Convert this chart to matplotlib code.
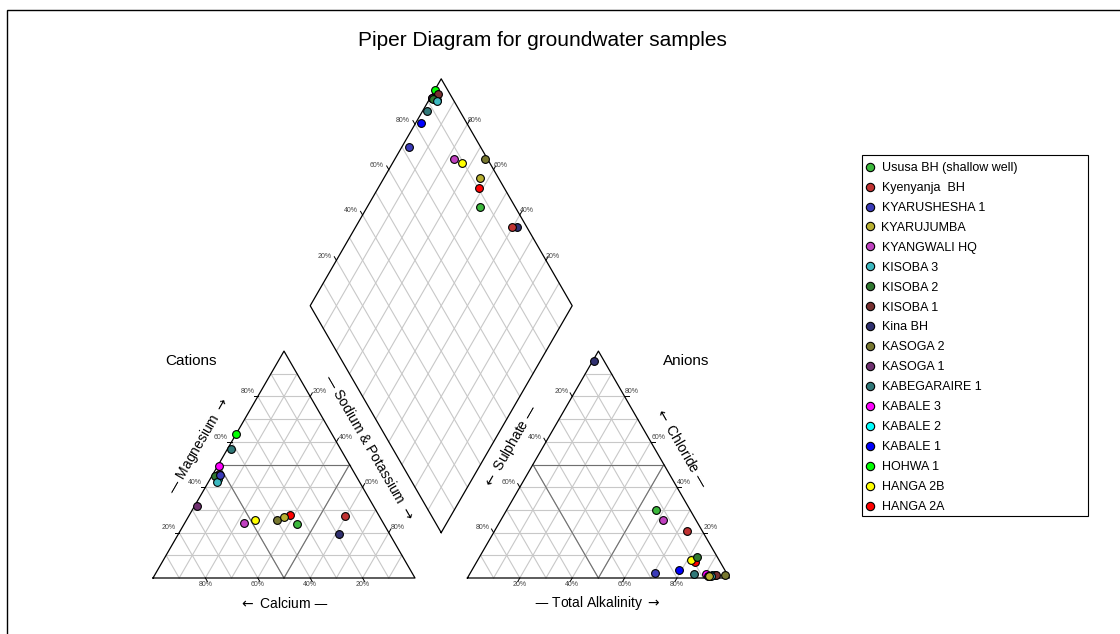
import numpy as np
import matplotlib
matplotlib.use("Agg")
from matplotlib import pyplot as plt
from matplotlib.lines import Line2D
from matplotlib.patches import Rectangle

plt.rcParams['font.family'] = ['Liberation Sans', 'DejaVu Sans']
plt.rcParams['mathtext.fontset'] = 'dejavusans'

# samples, in legend order
names = ["Ususa BH (shallow well)", "Kyenyanja  BH", "KYARUSHESHA 1", "KYARUJUMBA",
         "KYANGWALI HQ", "KISOBA 3", "KISOBA 2", "KISOBA 1", "Kina BH", "KASOGA 2",
         "KASOGA 1", "KABEGARAIRE 1", "KABALE 3", "KABALE 2", "KABALE 1", "HOHWA 1",
         "HANGA 2B", "HANGA 2A"]
colors = ["#3cb83c", "#c03232", "#3a3ab8", "#b8b030", "#c040c0", "#3cb8c0", "#307830",
          "#783030", "#303070", "#787830", "#703070", "#307878", "#ff00ff", "#00ffff",
          "#0000ff", "#00ff00", "#ffff00", "#ff0000"]

# cations, % meq
ca = [33.3, 13.0, 51.8, 36.5, 52.9, 54.7, 53.8, 51.8, 19.2, 40.0, 67.5, 41.7, 50.3, 53.5, 53.5, 36.5, 48.1, 33.6]
mg = [23.7, 27.4, 45.5, 26.9, 24.4, 42.1, 44.9, 46.0, 19.4, 25.6, 31.7, 56.7, 49.2, 43.5, 44.5, 63.3, 25.6, 27.9]
nak = [43.0, 59.6, 2.7, 36.6, 22.7, 3.2, 1.3, 2.2, 61.4, 34.4, 0.8, 1.6, 0.5, 3.0, 2.0, 0.2, 26.3, 38.5]

# anions, % meq
so4 = [13.3, 5.7, 27.5, 7.2, 12.6, 6.4, 7.8, 4.5, 3.8, 1.0, 7.6, 12.6, 7.9, 6.2, 17.4, 4.9, 10.6, 9.8]
cl = [29.8, 20.7, 2.1, 1.0, 25.5, 1.0, 9.3, 1.3, 95.7, 1.3, 0.8, 1.6, 1.9, 1.2, 3.4, 1.2, 8.1, 7.0]
alk = [56.9, 73.6, 70.4, 91.8, 61.9, 92.6, 82.9, 94.2, 0.5, 97.7, 91.6, 85.8, 90.2, 92.6, 79.2, 93.9, 81.3, 83.2]

h = np.sqrt(3) / 2
GAP = 0.2
AX0 = 1 + GAP  # left corner of anion triangle


def cation_xy(c, m, n):
    t = c + m + n
    return n / t + m / t / 2, m / t * h


def anion_xy(s, c, a):
    t = s + c + a
    return AX0 + a / t + c / t / 2, c / t * h


def diamond_xy(n, s):
    # u = Ca+Mg fraction, v = Cl+alkalinity fraction
    u = 1 - n / 100.0
    v = 1 - s / 100.0
    return 1 + GAP / 2 + 0.5 * (v - u), GAP * h + h * (u + v)


fig = plt.figure(figsize=(11.2, 6.34), dpi=100)
ax = fig.add_axes([0, 0, 1, 1])
ax.set_xlim(-153 / 262, (1120 - 153) / 262)
ax.set_ylim((578 - 634) / 262, 578 / 262)
ax.axis('off')

light = dict(color='#c8c8c8', lw=0.8, zorder=1)
dark = dict(color='#707070', lw=0.8, zorder=2)
edge = dict(color='black', lw=0.9, zorder=3)
tick = dict(color='black', lw=0.7, zorder=3)
lab = dict(fontsize=5, color='#444444', ha='center', va='center')
tl = 0.016


def seg(p, q, **kw):
    ax.plot([p[0], q[0]], [p[1], q[1]], **kw)


def triangle(ox):
    for f in np.arange(1, 10) / 10:
        seg((ox + f / 2, f * h), (ox + 1 - f / 2, f * h), **light)
        seg((ox + f, 0), (ox + (1 + f) / 2, (1 - f) * h), **light)
        seg((ox + 1 - f, 0), (ox + (1 - f) / 2, (1 - f) * h), **light)
    seg((ox + 0.25, h / 2), (ox + 0.75, h / 2), **dark)
    seg((ox + 0.5, 0), (ox + 0.25, h / 2), **dark)
    seg((ox + 0.5, 0), (ox + 0.75, h / 2), **dark)
    ax.plot([ox, ox + 1, ox + 0.5, ox], [0, 0, h, 0], **edge)


triangle(0)
triangle(AX0)

# diamond
B = np.array([1 + GAP / 2, GAP * h])
L = B + np.array([-0.5, h])
R = B + np.array([0.5, h])
T = L + (R - B)
for f in np.arange(1, 10) / 10:
    seg(B + f * (L - B), B + f * (L - B) + (R - B), **light)
    seg(B + f * (R - B), B + f * (R - B) + (L - B), **light)
ax.plot([B[0], L[0], T[0], R[0], B[0]], [B[1], L[1], T[1], R[1], B[1]], **edge)

# ticks and tick labels
for f in [0.2, 0.4, 0.6, 0.8]:
    pct = "{}%".format(int(round(f * 100)))
    # cations
    p = (1 - f, 0)
    seg(p, (p[0] + 0.5 * tl, p[1] - h * tl), **tick)
    ax.text(p[0], p[1] - 0.026, pct, **lab)
    p = (f / 2, f * h)
    seg(p, (p[0] - tl, p[1]), **tick)
    ax.text(p[0] - 0.040, p[1] + 0.018, pct, **lab)
    p = ((1 + f) / 2, (1 - f) * h)
    seg(p, (p[0] + 0.5 * tl, p[1] + h * tl), **tick)
    ax.text(p[0] + 0.035, p[1] + 0.018, pct, **lab)
    # anions
    p = (AX0 + f, 0)
    seg(p, (p[0] - 0.5 * tl, p[1] - h * tl), **tick)
    ax.text(p[0], p[1] - 0.026, pct, **lab)
    p = (AX0 + (1 - f) / 2, (1 - f) * h)
    seg(p, (p[0] - 0.5 * tl, p[1] + h * tl), **tick)
    ax.text(p[0] - 0.042, p[1] + 0.018, pct, **lab)
    p = (AX0 + 1 - f / 2, f * h)
    seg(p, (p[0] + tl, p[1]), **tick)
    ax.text(p[0] + 0.028, p[1] + 0.018, pct, **lab)
    # diamond
    p = L + f * (R - B)
    seg(p, p + tl * (L - B), **tick)
    ax.text(p[0] - 0.045, p[1] + 0.016, pct, **lab)
    p = R + f * (L - B)
    seg(p, p + tl * (R - B), **tick)
    ax.text(p[0] + 0.027, p[1] + 0.016, pct, **lab)

# labels
def px(x, y):
    return (x - 153) / 262, (578 - y) / 262


LA = r"$\leftarrow$"
RA = r"$\rightarrow$"
ax.text(*px(542, 40), "Piper Diagram for groundwater samples", fontsize=15,
        ha='center', va='center')
ax.text(*px(191, 361), "Cations", fontsize=11, ha='center', va='center')
ax.text(*px(686, 361), "Anions", fontsize=11, ha='center', va='center')
ax.text(*px(284, 603), LA + " Calcium \u2014", fontsize=10, ha='center', va='center')
ax.text(*px(597, 603), "\u2014 Total Alkalinity " + RA, fontsize=10, ha='center', va='center')
ax.text(*px(198, 446), "\u2014 Magnesium " + RA, fontsize=10, ha='center', va='center',
        rotation=60, rotation_mode='anchor')
ax.text(*px(369, 447), "\u2014 Sodium & Potassium " + RA, fontsize=10, ha='center',
        va='center', rotation=-60, rotation_mode='anchor')
ax.text(*px(511, 446), LA + " Sulphate \u2014", fontsize=10, ha='center', va='center',
        rotation=60, rotation_mode='anchor')
ax.text(*px(682, 447), LA + " Chloride \u2014", fontsize=10, ha='center', va='center',
        rotation=-60, rotation_mode='anchor')

# points, drawn in alphabetical order (reverse of legend)
for i in reversed(range(len(names))):
    mk = dict(marker='o', ls='', ms=5.6, mfc=colors[i], mec='black', mew=0.8, zorder=5)
    x, y = cation_xy(ca[i], mg[i], nak[i])
    ax.plot(x, y, **mk)
    x, y = anion_xy(so4[i], cl[i], alk[i])
    ax.plot(x, y, **mk)
    x, y = diamond_xy(nak[i], so4[i])
    ax.plot(x, y, **mk)

# legend
handles = [Line2D([], [], marker='o', ls='', ms=6, mfc=c, mec='black', mew=0.8)
           for c in colors]
fig.legend(handles, names, loc='upper left', bbox_to_anchor=(864 / 1120, 1 - 162 / 634),
           frameon=False, fontsize=9, borderpad=0, handlelength=0.9,
           handletextpad=0.5, labelspacing=0.635, borderaxespad=0)
fig.add_artist(Rectangle((862 / 1120, 1 - 516 / 634), 226 / 1120, 361 / 634,
                         transform=fig.transFigure, fill=False, ec='black', lw=0.8))
# outer frame
fig.add_artist(Rectangle((7 / 1120, -0.1), 1.2, 1 - 10 / 634 + 0.1,
                         transform=fig.transFigure, fill=False, ec='black', lw=1.0))

plt.savefig("out.png", dpi=100)
